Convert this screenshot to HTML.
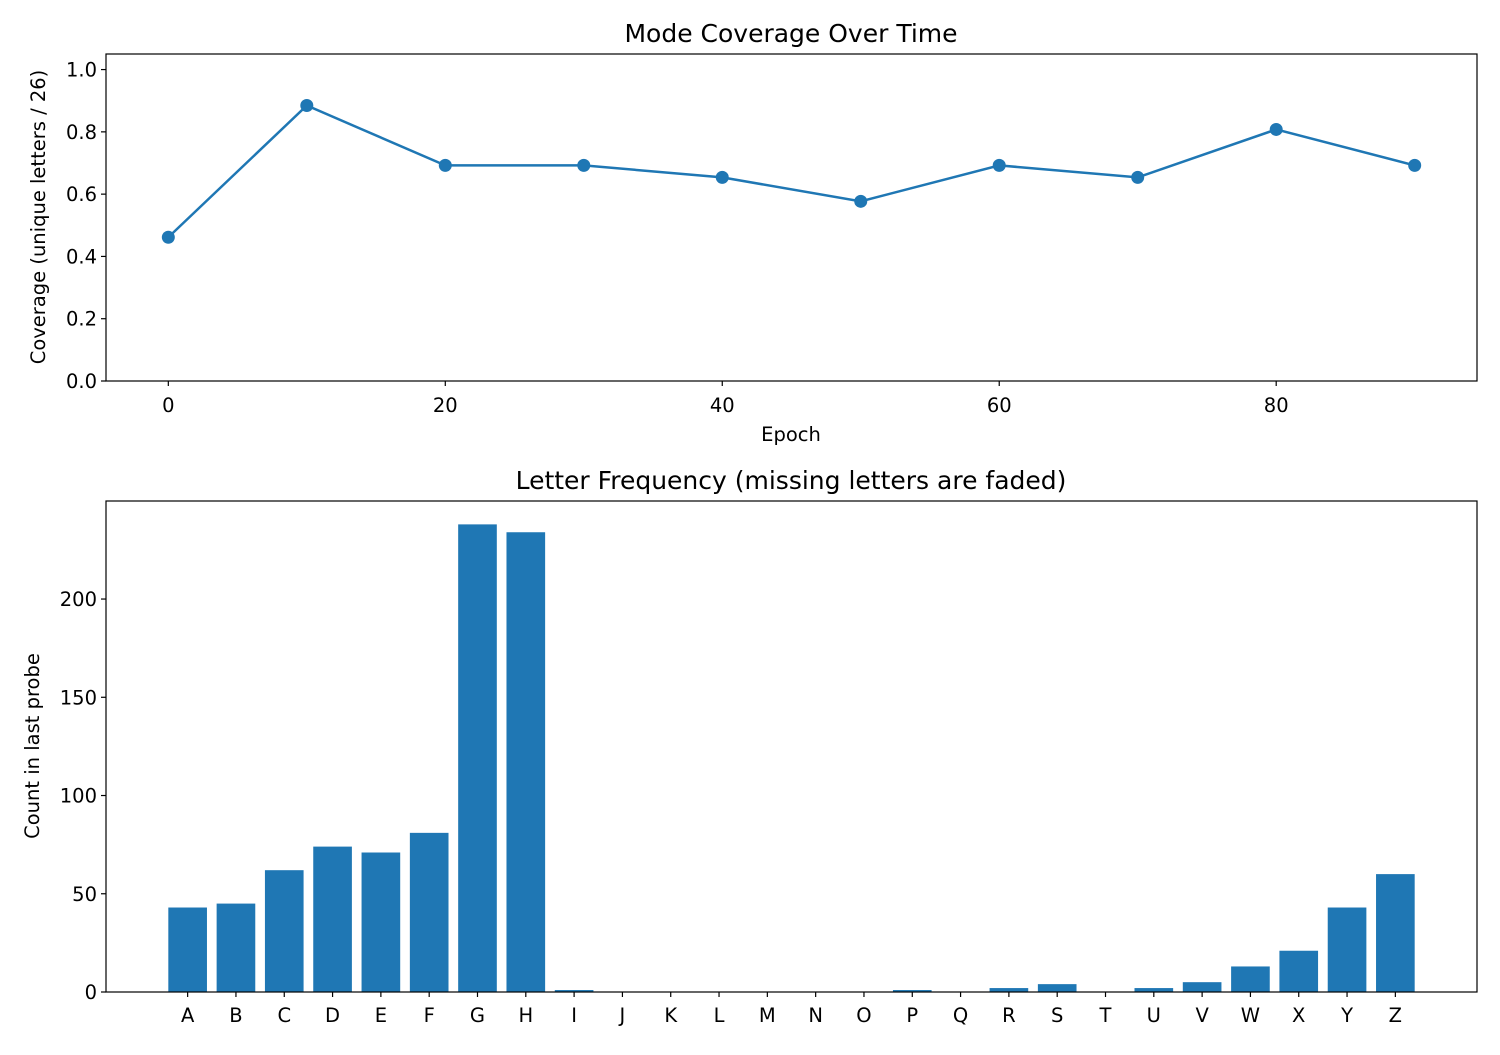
<!DOCTYPE html>
<html><head><meta charset="utf-8"><style>
body{margin:0;background:#fff;font-family:"Liberation Sans","DejaVu Sans",sans-serif;}
svg text{font-family:"DejaVu Sans","Liberation Sans",sans-serif;fill:#000;}
</style></head><body>
<svg id="c" width="1500" height="1050" xmlns="http://www.w3.org/2000/svg"></svg>
<script>
const epochs=[0,10,20,30,40,50,60,70,80,90];
const coverage=[0.4615,0.8846,0.6923,0.6923,0.6538,0.5769,0.6923,0.6538,0.8077,0.6923];
const covTicksY=[0,0.2,0.4,0.6,0.8,1.0];
const covTicksX=[0,20,40,60,80];
const letters=["A","B","C","D","E","F","G","H","I","J","K","L","M","N","O","P","Q","R","S","T","U","V","W","X","Y","Z"];
const counts=[43,45,62,74,71,81,238,234,1,0,0,0,0,0,0,1,0,2,4,0,2,5,13,21,43,60];
const cntTicksY=[0,50,100,150,200];

const svg=document.getElementById('c');const NS='http://www.w3.org/2000/svg';
function el(t,a,txt){const e=document.createElementNS(NS,t);for(const k in a)e.setAttribute(k,a[k]);if(txt!==undefined)e.textContent=txt;svg.appendChild(e);return e;}
const C='#1f77b4';
const FS='19.5', TS='25';
// top
const T={l:106,r:1477,t:54,b:381};
const tx=v=>T.l+(v+4.5)/99*(T.r-T.l);
const ty=v=>T.b-v/1.05*(T.b-T.t);
let e=el('text',{x:791,y:42,'font-size':TS,'text-anchor':'middle'},'Mode Coverage Over Time');

covTicksY.forEach(v=>{const y=ty(v);el('line',{x1:T.l-5,x2:T.l,y1:y,y2:y,stroke:'#000','stroke-width':1.2});
 e=el('text',{x:T.l-9,y:y+7,'font-size':FS,'text-anchor':'end'},v.toFixed(1));});
covTicksX.forEach(v=>{const x=tx(v);el('line',{x1:x,x2:x,y1:T.b,y2:T.b+5,stroke:'#000','stroke-width':1.2});
 e=el('text',{x:x,y:T.b+31,'font-size':FS,'text-anchor':'middle'},String(v));});
e=el('text',{x:791,y:441,'font-size':FS,'text-anchor':'middle'},'Epoch');
e=el('text',{x:45,y:217,'font-size':FS,'text-anchor':'middle',transform:'rotate(-90 45 217)'},'Coverage (unique letters / 26)');
e=el('polyline',{points:epochs.map((v,i)=>tx(v)+','+ty(coverage[i])).join(' '),fill:'none',stroke:C,'stroke-width':2.5});

epochs.forEach((v,i)=>{e=el('circle',{cx:tx(v),cy:ty(coverage[i]),r:6.5,fill:C});});
e=el('rect',{x:T.l,y:T.t,width:T.r-T.l,height:T.b-T.t,fill:'none',stroke:'#000','stroke-width':1.2});
// bottom
const B={l:106,r:1477,t:501,b:992};
const bw=(B.r-B.l)/28.38;
const bx=i=>B.l+(i+1.69)*bw;
const by=v=>B.b-v/249.9*(B.b-B.t);
e=el('text',{x:791,y:489,'font-size':TS,'text-anchor':'middle'},'Letter Frequency (missing letters are faded)');
counts.forEach((v,i)=>{const x=bx(i);e=el('rect',{x:x-0.4*bw,y:by(v),width:0.8*bw,height:B.b-by(v),fill:C,'fill-opacity':v===0?0.25:1});
 
 el('line',{x1:x,x2:x,y1:B.b,y2:B.b+5,stroke:'#000','stroke-width':1.2});
 e=el('text',{x:x,y:B.b+30,'font-size':FS,'text-anchor':'middle'},letters[i]);});
cntTicksY.forEach(v=>{const y=by(v);el('line',{x1:B.l-5,x2:B.l,y1:y,y2:y,stroke:'#000','stroke-width':1.2});
 e=el('text',{x:B.l-9,y:y+7,'font-size':FS,'text-anchor':'end'},String(v));});
e=el('text',{x:39,y:746,'font-size':FS,'text-anchor':'middle',transform:'rotate(-90 39 746)'},'Count in last probe');
e=el('rect',{x:B.l,y:B.t,width:B.r-B.l,height:B.b-B.t,fill:'none',stroke:'#000','stroke-width':1.2});
</script>
</body></html>
